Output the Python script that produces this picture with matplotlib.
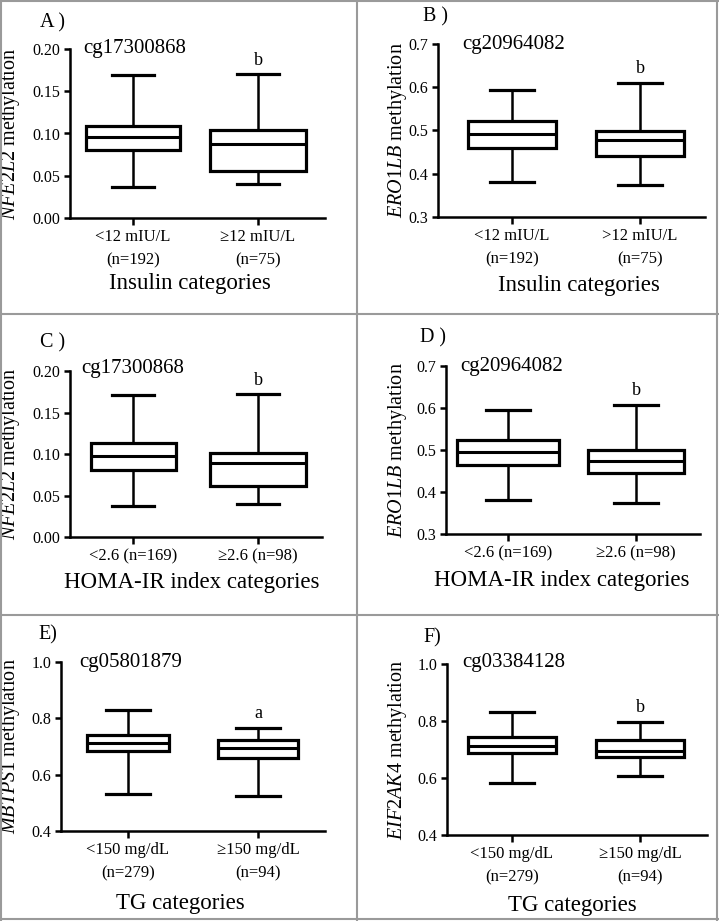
import matplotlib
matplotlib.use("Agg")
import matplotlib.pyplot as plt
from matplotlib.lines import Line2D

plt.rcParams["font.family"] = ["Liberation Serif", "DejaVu Serif"]
plt.rcParams["mathtext.fontset"] = "custom"
plt.rcParams["mathtext.it"] = "Liberation Serif:italic"
plt.rcParams["mathtext.rm"] = "Liberation Serif"

# ---- data ----
panel_letters = ["A )", "B )", "C )", "D )", "E)", "F)"]
cpg_sites = ["cg17300868", "cg20964082", "cg17300868", "cg20964082", "cg05801879", "cg03384128"]
genes = ["NFE2L2", "ERO1LB", "NFE2L2", "ERO1LB", "MBTPS1", "EIF2AK4"]
group_labels = [
    ["<12 mIU/L\n(n=192)", "≥12 mIU/L\n(n=75)"],
    ["<12 mIU/L\n(n=192)", ">12 mIU/L\n(n=75)"],
    ["<2.6 (n=169)", "≥2.6 (n=98)"],
    ["<2.6 (n=169)", "≥2.6 (n=98)"],
    ["<150 mg/dL\n(n=279)", "≥150 mg/dL\n(n=94)"],
    ["<150 mg/dL\n(n=279)", "≥150 mg/dL\n(n=94)"],
]
category_titles = ["Insulin categories", "Insulin categories",
                   "HOMA-IR index categories", "HOMA-IR index categories",
                   "TG categories", "TG categories"]
sig_letters = ["b", "b", "b", "b", "a", "b"]

whisker_low = [[0.037, 0.040], [0.381, 0.374], [0.037, 0.040],
               [0.381, 0.373], [0.530, 0.524], [0.584, 0.606]]
q1 = [[0.080, 0.056], [0.459, 0.440], [0.081, 0.062],
      [0.465, 0.445], [0.684, 0.658], [0.687, 0.672]]
median = [[0.096, 0.088], [0.492, 0.477], [0.097, 0.089],
          [0.495, 0.474], [0.714, 0.696], [0.714, 0.695]]
q3 = [[0.109, 0.104], [0.522, 0.499], [0.113, 0.101],
      [0.524, 0.499], [0.740, 0.723], [0.745, 0.733]]
whisker_high = [[0.169, 0.170], [0.593, 0.610], [0.171, 0.172],
                [0.595, 0.608], [0.829, 0.766], [0.830, 0.797]]

y_ticks = [[0.00, 0.05, 0.10, 0.15, 0.20], [0.3, 0.4, 0.5, 0.6, 0.7],
           [0.00, 0.05, 0.10, 0.15, 0.20], [0.3, 0.4, 0.5, 0.6, 0.7],
           [0.4, 0.6, 0.8, 1.0], [0.4, 0.6, 0.8, 1.0]]
y_fmt = ["{:.2f}", "{:.1f}", "{:.2f}", "{:.1f}", "{:.1f}", "{:.1f}"]

# ---- layout (pixels in a 719x921 canvas) ----
W, H = 719, 921
# axes box: left, top, right, bottom
axes_px = [(70, 49, 325, 218), (438, 44, 705, 217),
           (70, 371, 322, 537), (446, 366, 700, 534),
           (61, 662, 325, 831), (447, 664, 707, 835)]
tick_px = [(133, 258), (512, 640), (133, 258), (508, 636), (128, 258), (512, 640)]
box_widths = [[0.75, 0.77], [0.68, 0.68], [0.68, 0.77], [0.80, 0.75], [0.63, 0.61], [0.69, 0.69]]
ylabel_right_px = [22, 409, 22, 409, 22, 409]
xlabel_px = [(190, 283), (579, 285), (192, 582), (562, 580), (180, 903), (572, 905)]
letter_px = [(40, 23), (423, 17), (40, 343), (420, 338), (38, 635), (423, 638)]
cpg_px = [(83, 48), (462, 44), (81, 368), (460, 366), (79, 662), (462, 663)]

fig = plt.figure(figsize=(W / 100, H / 100), dpi=100)

for i in range(6):
    l, t, r, b = axes_px[i]
    ax = fig.add_axes([l / W, 1 - b / H, (r - l) / W, (b - t) / H])

    stats = []
    for j in range(2):
        stats.append(dict(whislo=whisker_low[i][j], q1=q1[i][j], med=median[i][j],
                          q3=q3[i][j], whishi=whisker_high[i][j], fliers=[]))
    ax.bxp(stats, positions=[0, 1], widths=box_widths[i], capwidths=0.34,
           showfliers=False, patch_artist=True,
           boxprops=dict(facecolor="white", edgecolor="black", linewidth=2.3),
           medianprops=dict(color="black", linewidth=2.2),
           whiskerprops=dict(color="black", linewidth=1.8),
           capprops=dict(color="black", linewidth=2.3))

    c0, c1 = tick_px[i]
    ax.set_xlim((l - c0) / (c1 - c0), (r - c0) / (c1 - c0))
    ax.set_ylim(y_ticks[i][0], y_ticks[i][-1])
    ax.set_yticks(y_ticks[i])
    ax.set_yticklabels([y_fmt[i].format(v) for v in y_ticks[i]])
    ax.set_xticks([0, 1])
    ax.set_xticklabels(group_labels[i], linespacing=1.6)

    for s in ["top", "right"]:
        ax.spines[s].set_visible(False)
    for s in ["left", "bottom"]:
        ax.spines[s].set_linewidth(1.8)
    ax.tick_params(axis="y", length=4, width=1.8, pad=3, labelsize=11.5)
    ax.tick_params(axis="x", length=5, width=1.8, pad=3, labelsize=12)

    ax.set_ylabel(r"$\it{" + genes[i] + "}$ methylation", fontsize=14.5)
    ax.yaxis.set_label_coords((ylabel_right_px[i] - l) / (r - l), 0.5)
    ax.set_xlabel(category_titles[i], fontsize=16.5, va="center")
    xc, yc = xlabel_px[i]
    ax.xaxis.set_label_coords((xc - l) / (r - l), -(yc - b) / (b - t))

    ax.annotate(sig_letters[i], xy=(1, whisker_high[i][1]), xytext=(0, 4),
                textcoords="offset points", ha="center", va="bottom", fontsize=13)

    fig.text(letter_px[i][0] / W, 1 - letter_px[i][1] / H, panel_letters[i],
             fontsize=14.5, ha="left", va="center")
    fig.text(cpg_px[i][0] / W, 1 - cpg_px[i][1] / H, cpg_sites[i],
             fontsize=15, ha="left", va="center")

# gray panel frame lines
frame = dict(color="#9a9a9a", linewidth=1.5, transform=fig.transFigure)
fig.add_artist(Line2D([1 / W, 1 / W], [0, 1], **frame))
fig.add_artist(Line2D([717 / W, 717 / W], [0, 1], **frame))
fig.add_artist(Line2D([0, 1], [1 - 1 / H, 1 - 1 / H], **frame))
fig.add_artist(Line2D([0, 1], [1 - 919 / H, 1 - 919 / H], **frame))
fig.add_artist(Line2D([357 / W, 357 / W], [0, 1], **frame))
fig.add_artist(Line2D([0, 1], [1 - 314 / H, 1 - 314 / H], **frame))
fig.add_artist(Line2D([0, 1], [1 - 615 / H, 1 - 615 / H], **frame))

fig.savefig("out.png", dpi=100, facecolor="white")
